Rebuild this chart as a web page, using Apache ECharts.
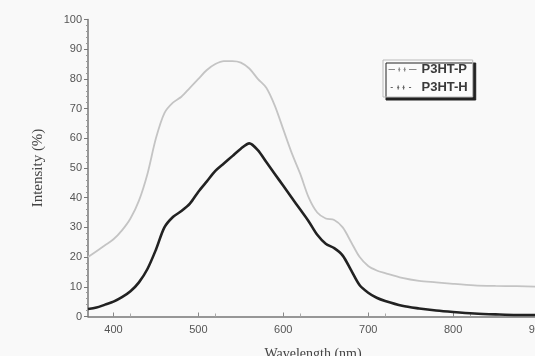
<!DOCTYPE html>
<html>
<head>
<meta charset="utf-8">
<script src="https://cdn.jsdelivr.net/npm/echarts@6/dist/echarts.min.js"></script>
<style>
html,body{margin:0;padding:0;background:#f9f9f9;}
#c{width:535px;height:356px;}
</style>
</head>
<body>
<div id="c"></div>
<script>
var wavelengths = [370,380,390,400,410,420,430,440,450,460,470,480,490,500,510,520,530,540,550,560,570,580,590,600,610,620,630,640,650,660,670,680,690,700,710,720,740,760,780,800,825,850,875,900];
var p3htP = [20,22,24,26,29,33,39,48,60,68.5,72,74,77,80,83,85,86,86,85.5,83.5,80,77,71,63,55,48,40,35,33,32.5,30,25,20,17,15.5,14.6,13,12,11.5,11,10.5,10.3,10.2,10];
var p3htH = [2.5,3,4,5,6.5,8.5,11.5,16,22.5,30,33.5,35.5,38,42,45.5,49,51.5,54,56.5,58.3,56,52,48,44,40,36,32,27.5,24.5,23,20.5,15.5,10.5,8,6.3,5.2,3.6,2.7,2,1.5,1,0.7,0.5,0.5];
var seriesNames = ['P3HT-P','P3HT-H'];
var yTicks = [0,10,20,30,40,50,60,70,80,90,100];
var xTicks = [400,500,600,700,800,900];

function pairs(ys){ return wavelengths.map(function(x,i){ return [x, ys[i]]; }); }

var chart = echarts.init(document.getElementById('c'));
var font = 'Liberation Sans, Arial, sans-serif';
var serif = 'Liberation Serif, Times New Roman, serif';
var iconP = 'path://M0,5L6,5M9,5L11,5M10,4L10,6M14,5L16,5M15,4L15,6M19,5L26,5M0,3L0,3M26,7L26,7';
var iconH = 'path://M2,5L4,5M8,5L10,5M9,4L9,6M13,5L15,5M14,4L14,6M19,5L21,5M0,3L0,3M26,7L26,7';
chart.setOption({
  backgroundColor: '#f9f9f9',
  animation: false,
  grid: {left: 88, width: 450, top: 19.5, bottom: 39.5, outerBoundsMode: 'none', containLabel: false},
  legend: {
    data: [
      {name: seriesNames[0], icon: iconP, itemStyle: {color: 'none', borderColor: '#888', borderWidth: 1.2}},
      {name: seriesNames[1], icon: iconH, itemStyle: {color: 'none', borderColor: '#666', borderWidth: 1.2}}
    ],
    symbolKeepAspect: false,
    orient: 'vertical',
    left: 383, top: 60,
    itemWidth: 28, itemHeight: 8, itemGap: 5,
    padding: [3, 5, 3, 3],
    backgroundColor: '#fbfbfb',
    borderColor: '#bbb', borderWidth: 1,
    shadowColor: '#222', shadowOffsetX: 3, shadowOffsetY: 3, shadowBlur: 0,
    textStyle: {fontFamily: font, fontSize: 13, fontWeight: 'bold', color: '#3a3a3a', lineHeight: 13}
  },
  xAxis: {
    type: 'value', min: 370, max: 900,
    interval: 100,
    name: 'Wavelength (nm)', nameLocation: 'middle', nameGap: 31,
    nameTextStyle: {fontFamily: serif, fontSize: 14, color: '#444'},
    axisLine: {lineStyle: {color: '#777', width: 1.5}},
    axisTick: {inside: true, length: 4, lineStyle: {color: '#888'}, customValues: xTicks},
    minorTick: {show: true, splitNumber: 2, length: 3, lineStyle: {color: '#aaa'}},
    axisLabel: {fontFamily: font, fontSize: 11, color: '#555', margin: 8, customValues: xTicks},
    splitLine: {show: false}
  },
  yAxis: {
    type: 'value', min: 0, max: 100, interval: 10,
    name: 'Intensity (%)', nameLocation: 'middle', nameGap: 42,
    nameTextStyle: {fontFamily: serif, fontSize: 15, color: '#444'},
    axisLine: {show: true, lineStyle: {color: '#777', width: 1.5}},
    axisTick: {show: true, length: 4, lineStyle: {color: '#777'}},
    minorTick: {show: true, splitNumber: 5, length: 2, lineStyle: {color: '#999'}},
    axisLabel: {fontFamily: font, fontSize: 11, color: '#555', margin: 6},
    splitLine: {show: false}
  },
  series: [
    {
      name: seriesNames[0], type: 'line', smooth: 0.3, symbol: 'none',
      data: pairs(p3htP),
      itemStyle: {color: '#c4c4c4'},
      lineStyle: {color: '#c4c4c4', width: 1.8}
    },
    {
      name: seriesNames[1], type: 'line', smooth: 0.3, symbol: 'none',
      data: pairs(p3htH),
      itemStyle: {color: '#222'},
      lineStyle: {color: '#222', width: 2.6}
    }
  ]
});
</script>
</body>
</html>
